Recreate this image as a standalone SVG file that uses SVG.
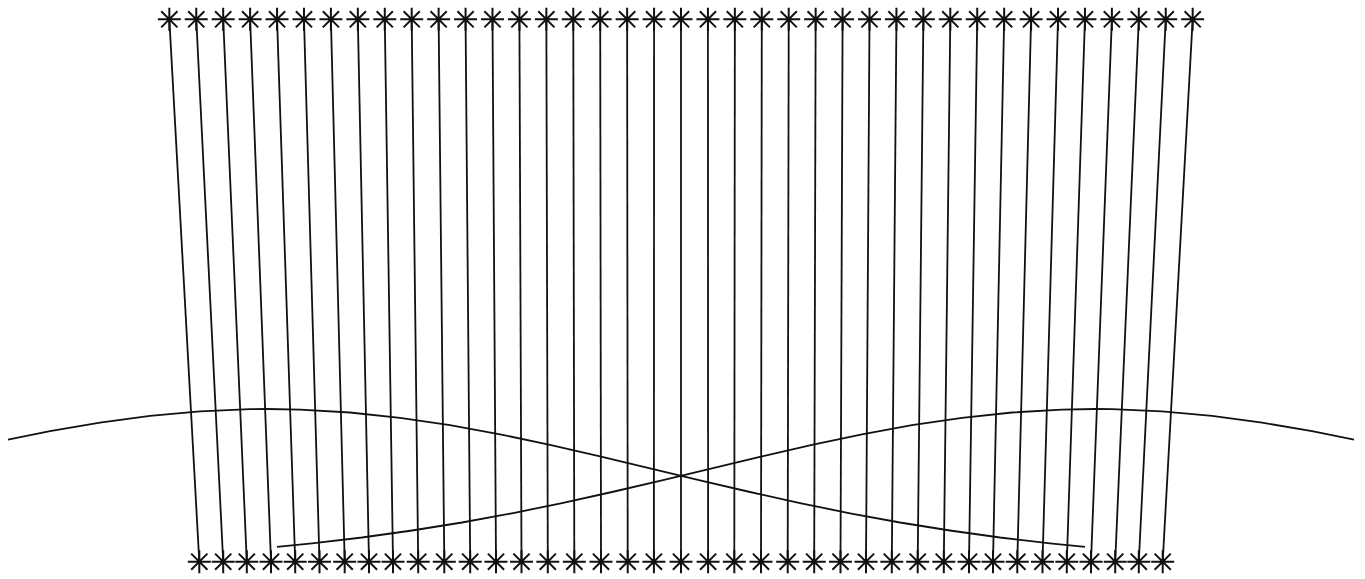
<svg xmlns="http://www.w3.org/2000/svg" xmlns:xlink="http://www.w3.org/1999/xlink" width="1365" height="579" viewBox="0 0 1365 579">
<style>
.c{stroke:#111;stroke-width:1.8;fill:none;stroke-linecap:butt}
.a{stroke:#111;stroke-width:2;fill:none}
</style>
<defs>
<path id="ast" class="a" d="M-11.5 0H11.5M0 -11.5V11.5M-8.1 -8.1L8.1 8.1M-8.1 8.1L8.1 -8.1"/>
</defs>
<rect width="1365" height="579" fill="#fff"/>
<g id="connectors" class="c">
<line x1="169.33" y1="19.3" x2="199.3" y2="561.7"/>
<line x1="196.26" y1="19.3" x2="223.2" y2="561.7"/>
<line x1="223.19" y1="19.3" x2="246.8" y2="561.7"/>
<line x1="250.12" y1="19.3" x2="271" y2="561.7"/>
<line x1="277.05" y1="19.3" x2="295.2" y2="561.7"/>
<line x1="303.98" y1="19.3" x2="319.5" y2="561.7"/>
<line x1="330.91" y1="19.3" x2="344.7" y2="561.7"/>
<line x1="357.84" y1="19.3" x2="369" y2="561.7"/>
<line x1="384.77" y1="19.3" x2="393" y2="561.7"/>
<line x1="411.7" y1="19.3" x2="418.2" y2="561.7"/>
<line x1="438.63" y1="19.3" x2="444.3" y2="561.7"/>
<line x1="465.56" y1="19.3" x2="470.2" y2="561.7"/>
<line x1="492.49" y1="19.3" x2="496" y2="561.7"/>
<line x1="519.42" y1="19.3" x2="521.5" y2="561.7"/>
<line x1="546.35" y1="19.3" x2="547.8" y2="561.7"/>
<line x1="573.28" y1="19.3" x2="574.3" y2="561.7"/>
<line x1="600.21" y1="19.3" x2="601" y2="561.7"/>
<line x1="627.14" y1="19.3" x2="627.7" y2="561.7"/>
<line x1="654.07" y1="19.3" x2="653.9" y2="561.7"/>
<line x1="681" y1="19.3" x2="681" y2="561.7"/>
<line x1="707.93" y1="19.3" x2="708.1" y2="561.7"/>
<line x1="734.86" y1="19.3" x2="734.3" y2="561.7"/>
<line x1="761.79" y1="19.3" x2="761" y2="561.7"/>
<line x1="788.72" y1="19.3" x2="787.7" y2="561.7"/>
<line x1="815.65" y1="19.3" x2="814.2" y2="561.7"/>
<line x1="842.58" y1="19.3" x2="840.5" y2="561.7"/>
<line x1="869.51" y1="19.3" x2="866" y2="561.7"/>
<line x1="896.44" y1="19.3" x2="891.8" y2="561.7"/>
<line x1="923.37" y1="19.3" x2="917.7" y2="561.7"/>
<line x1="950.3" y1="19.3" x2="943.8" y2="561.7"/>
<line x1="977.23" y1="19.3" x2="969" y2="561.7"/>
<line x1="1004.16" y1="19.3" x2="993" y2="561.7"/>
<line x1="1031.09" y1="19.3" x2="1017.3" y2="561.7"/>
<line x1="1058.02" y1="19.3" x2="1042.5" y2="561.7"/>
<line x1="1084.95" y1="19.3" x2="1066.8" y2="561.7"/>
<line x1="1111.88" y1="19.3" x2="1091" y2="561.7"/>
<line x1="1138.81" y1="19.3" x2="1115.2" y2="561.7"/>
<line x1="1165.74" y1="19.3" x2="1138.8" y2="561.7"/>
<line x1="1192.67" y1="19.3" x2="1162.7" y2="561.7"/>
<polyline id="curve-left" points="8,439.7 50,431.2 100,422.6 150,415.8 200,411.3 250,409.1 267,409 300,409.6 350,412.5 400,417.8 450,425.2 500,434.3 550,444.9 600,456.4 650,468.3 700,480.3 750,492 800,503.1 850,513.3 900,522.5 950,530.5 1000,537.5 1050,543.3 1085,546.8"/>
<polyline id="curve-right" points="1354,439.7 1312,431.2 1262,422.6 1212,415.8 1162,411.3 1112,409.1 1095,409 1062,409.6 1012,412.5 962,417.8 912,425.2 862,434.3 812,444.9 762,456.4 712,468.3 662,480.3 612,492 562,503.1 512,513.3 462,522.5 412,530.5 362,537.5 312,543.3 277,546.8"/>
</g>
<g id="top-nodes">
<g id="t0"><use xlink:href="#ast" href="#ast" x="169.33" y="19.3"/></g>
<g id="t1"><use href="#ast" x="196.26" y="19.3"/></g>
<g id="t2"><use href="#ast" x="223.19" y="19.3"/></g>
<g id="t3"><use href="#ast" x="250.12" y="19.3"/></g>
<g id="t4"><use href="#ast" x="277.05" y="19.3"/></g>
<g id="t5"><use href="#ast" x="303.98" y="19.3"/></g>
<g id="t6"><use href="#ast" x="330.91" y="19.3"/></g>
<g id="t7"><use href="#ast" x="357.84" y="19.3"/></g>
<g id="t8"><use href="#ast" x="384.77" y="19.3"/></g>
<g id="t9"><use href="#ast" x="411.7" y="19.3"/></g>
<g id="t10"><use href="#ast" x="438.63" y="19.3"/></g>
<g id="t11"><use href="#ast" x="465.56" y="19.3"/></g>
<g id="t12"><use href="#ast" x="492.49" y="19.3"/></g>
<g id="t13"><use href="#ast" x="519.42" y="19.3"/></g>
<g id="t14"><use href="#ast" x="546.35" y="19.3"/></g>
<g id="t15"><use href="#ast" x="573.28" y="19.3"/></g>
<g id="t16"><use href="#ast" x="600.21" y="19.3"/></g>
<g id="t17"><use href="#ast" x="627.14" y="19.3"/></g>
<g id="t18"><use href="#ast" x="654.07" y="19.3"/></g>
<g id="t19"><use href="#ast" x="681" y="19.3"/></g>
<g id="t20"><use href="#ast" x="707.93" y="19.3"/></g>
<g id="t21"><use href="#ast" x="734.86" y="19.3"/></g>
<g id="t22"><use href="#ast" x="761.79" y="19.3"/></g>
<g id="t23"><use href="#ast" x="788.72" y="19.3"/></g>
<g id="t24"><use href="#ast" x="815.65" y="19.3"/></g>
<g id="t25"><use href="#ast" x="842.58" y="19.3"/></g>
<g id="t26"><use href="#ast" x="869.51" y="19.3"/></g>
<g id="t27"><use href="#ast" x="896.44" y="19.3"/></g>
<g id="t28"><use href="#ast" x="923.37" y="19.3"/></g>
<g id="t29"><use href="#ast" x="950.3" y="19.3"/></g>
<g id="t30"><use href="#ast" x="977.23" y="19.3"/></g>
<g id="t31"><use href="#ast" x="1004.16" y="19.3"/></g>
<g id="t32"><use href="#ast" x="1031.09" y="19.3"/></g>
<g id="t33"><use href="#ast" x="1058.02" y="19.3"/></g>
<g id="t34"><use href="#ast" x="1084.95" y="19.3"/></g>
<g id="t35"><use href="#ast" x="1111.88" y="19.3"/></g>
<g id="t36"><use href="#ast" x="1138.81" y="19.3"/></g>
<g id="t37"><use href="#ast" x="1165.74" y="19.3"/></g>
<g id="t38"><use href="#ast" x="1192.67" y="19.3"/></g>
</g>
<g id="bottom-nodes">
<g id="b0"><use href="#ast" x="199.3" y="561.7"/></g>
<g id="b1"><use href="#ast" x="223.2" y="561.7"/></g>
<g id="b2"><use href="#ast" x="246.8" y="561.7"/></g>
<g id="b3"><use href="#ast" x="271" y="561.7"/></g>
<g id="b4"><use href="#ast" x="295.2" y="561.7"/></g>
<g id="b5"><use href="#ast" x="319.5" y="561.7"/></g>
<g id="b6"><use href="#ast" x="344.7" y="561.7"/></g>
<g id="b7"><use href="#ast" x="369" y="561.7"/></g>
<g id="b8"><use href="#ast" x="393" y="561.7"/></g>
<g id="b9"><use href="#ast" x="418.2" y="561.7"/></g>
<g id="b10"><use href="#ast" x="444.3" y="561.7"/></g>
<g id="b11"><use href="#ast" x="470.2" y="561.7"/></g>
<g id="b12"><use href="#ast" x="496" y="561.7"/></g>
<g id="b13"><use href="#ast" x="521.5" y="561.7"/></g>
<g id="b14"><use href="#ast" x="547.8" y="561.7"/></g>
<g id="b15"><use href="#ast" x="574.3" y="561.7"/></g>
<g id="b16"><use href="#ast" x="601" y="561.7"/></g>
<g id="b17"><use href="#ast" x="627.7" y="561.7"/></g>
<g id="b18"><use href="#ast" x="653.9" y="561.7"/></g>
<g id="b19"><use href="#ast" x="681" y="561.7"/></g>
<g id="b20"><use href="#ast" x="708.1" y="561.7"/></g>
<g id="b21"><use href="#ast" x="734.3" y="561.7"/></g>
<g id="b22"><use href="#ast" x="761" y="561.7"/></g>
<g id="b23"><use href="#ast" x="787.7" y="561.7"/></g>
<g id="b24"><use href="#ast" x="814.2" y="561.7"/></g>
<g id="b25"><use href="#ast" x="840.5" y="561.7"/></g>
<g id="b26"><use href="#ast" x="866" y="561.7"/></g>
<g id="b27"><use href="#ast" x="891.8" y="561.7"/></g>
<g id="b28"><use href="#ast" x="917.7" y="561.7"/></g>
<g id="b29"><use href="#ast" x="943.8" y="561.7"/></g>
<g id="b30"><use href="#ast" x="969" y="561.7"/></g>
<g id="b31"><use href="#ast" x="993" y="561.7"/></g>
<g id="b32"><use href="#ast" x="1017.3" y="561.7"/></g>
<g id="b33"><use href="#ast" x="1042.5" y="561.7"/></g>
<g id="b34"><use href="#ast" x="1066.8" y="561.7"/></g>
<g id="b35"><use href="#ast" x="1091" y="561.7"/></g>
<g id="b36"><use href="#ast" x="1115.2" y="561.7"/></g>
<g id="b37"><use href="#ast" x="1138.8" y="561.7"/></g>
<g id="b38"><use href="#ast" x="1162.7" y="561.7"/></g>
</g>
</svg>
